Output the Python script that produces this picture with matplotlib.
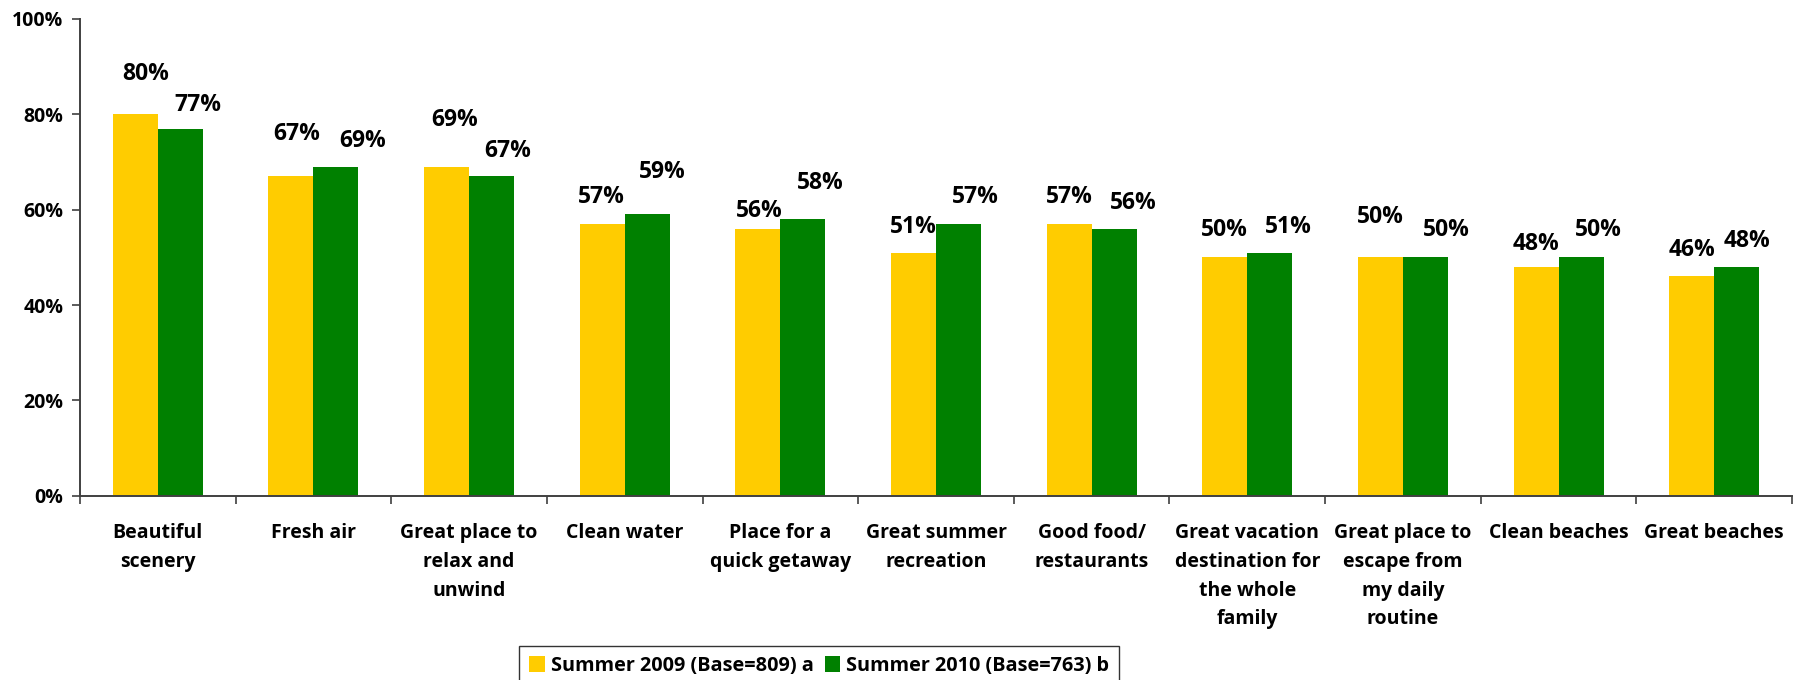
import numpy as np
import matplotlib
matplotlib.use("Agg")
import matplotlib.pyplot as plt
from matplotlib.patches import Patch
from matplotlib.ticker import FixedLocator, PercentFormatter

categories = [
    "Beautiful\nscenery", "Fresh air", "Great place to\nrelax and\nunwind",
    "Clean water", "Place for a\nquick getaway", "Great summer\nrecreation",
    "Good food/\nrestaurants", "Great vacation\ndestination for\nthe whole\nfamily",
    "Great place to\nescape from\nmy daily\nroutine", "Clean beaches", "Great beaches",
]
summer_2009 = [80, 67, 69, 57, 56, 51, 57, 50, 50, 48, 46]
summer_2010 = [77, 69, 67, 59, 58, 57, 56, 51, 50, 50, 48]
series_names = ["Summer 2009 (Base=809) a", "Summer 2010 (Base=763) b"]

# hand placed label offsets (pixels) as in the original
nudge_2009 = [(10, 40), (6, 42), (8, 47), (-1, 27), (1, 18), (0, 26),
              (0, 27), (0, 27), (0, 40), (0, 23), (0, 26)]
nudge_2010 = [(18, 24), (27, 26), (16, 25), (15, 42), (17, 36), (17, 27),
              (19, 26), (19, 26), (21, 27), (17, 27), (10, 26)]

YELLOW = "#FFCC00"
GREEN = "#008000"

plt.rcParams['font.family'] = ['Open Sans', 'DejaVu Sans']
plt.rcParams['font.weight'] = 'bold'

fig = plt.figure(figsize=(18.02, 6.8), dpi=100)
ax = fig.add_axes([80 / 1802, 1 - 495.7 / 680, 1712 / 1802, 476.7 / 680])

x = np.arange(len(categories)) + 0.5
w = 0.289
bars_a = ax.bar(x - w / 2, summer_2009, width=w, color=YELLOW)
bars_b = ax.bar(x + w / 2, summer_2010, width=w, color=GREEN)

for bars, vals, nudges in [(bars_a, summer_2009, nudge_2009), (bars_b, summer_2010, nudge_2010)]:
    for b, v, (dx, dy) in zip(bars, vals, nudges):
        ax.annotate(f"{v}%", (b.get_x() + b.get_width() / 2, v),
                    xytext=(dx, dy), textcoords='offset pixels',
                    ha='center', va='center', fontsize=16.5, fontweight='bold')

ax.set_xlim(0, len(categories))
ax.set_ylim(0, 100)
ax.set_yticks(range(0, 101, 20))
ax.yaxis.set_major_formatter(PercentFormatter(decimals=0))
ax.tick_params(axis='y', direction='out', length=6, width=1.2, color='#404040',
               labelsize=14, pad=6)

ax.set_xticks(x)
ax.set_xticklabels(categories, fontsize=14, fontweight='bold', linespacing=1.57, va='top')
ax.xaxis.set_minor_locator(FixedLocator(np.arange(0, len(categories) + 1)))
ax.tick_params(axis='x', which='major', length=0, pad=20)
ax.tick_params(axis='x', which='minor', direction='out', length=6, width=1.2, color='#404040')

for s in ['top', 'right']:
    ax.spines[s].set_visible(False)
for s in ['left', 'bottom']:
    ax.spines[s].set_color('#404040')
    ax.spines[s].set_linewidth(1.4)

handles = [Patch(facecolor=YELLOW), Patch(facecolor=GREEN)]
leg = fig.legend(handles, series_names, loc='upper left', bbox_to_anchor=(519 / 1802, 1 - 646 / 680),
                 ncol=2, frameon=True, fancybox=False, edgecolor='black', fontsize=14.3,
                 handlelength=0.8, handleheight=0.8, handletextpad=0.3, columnspacing=0.55,
                 borderpad=0.5, borderaxespad=0)
leg.get_frame().set_linewidth(1.0)
for t in leg.get_texts():
    t.set_fontweight('bold')

fig.savefig("out.png", dpi=100)
